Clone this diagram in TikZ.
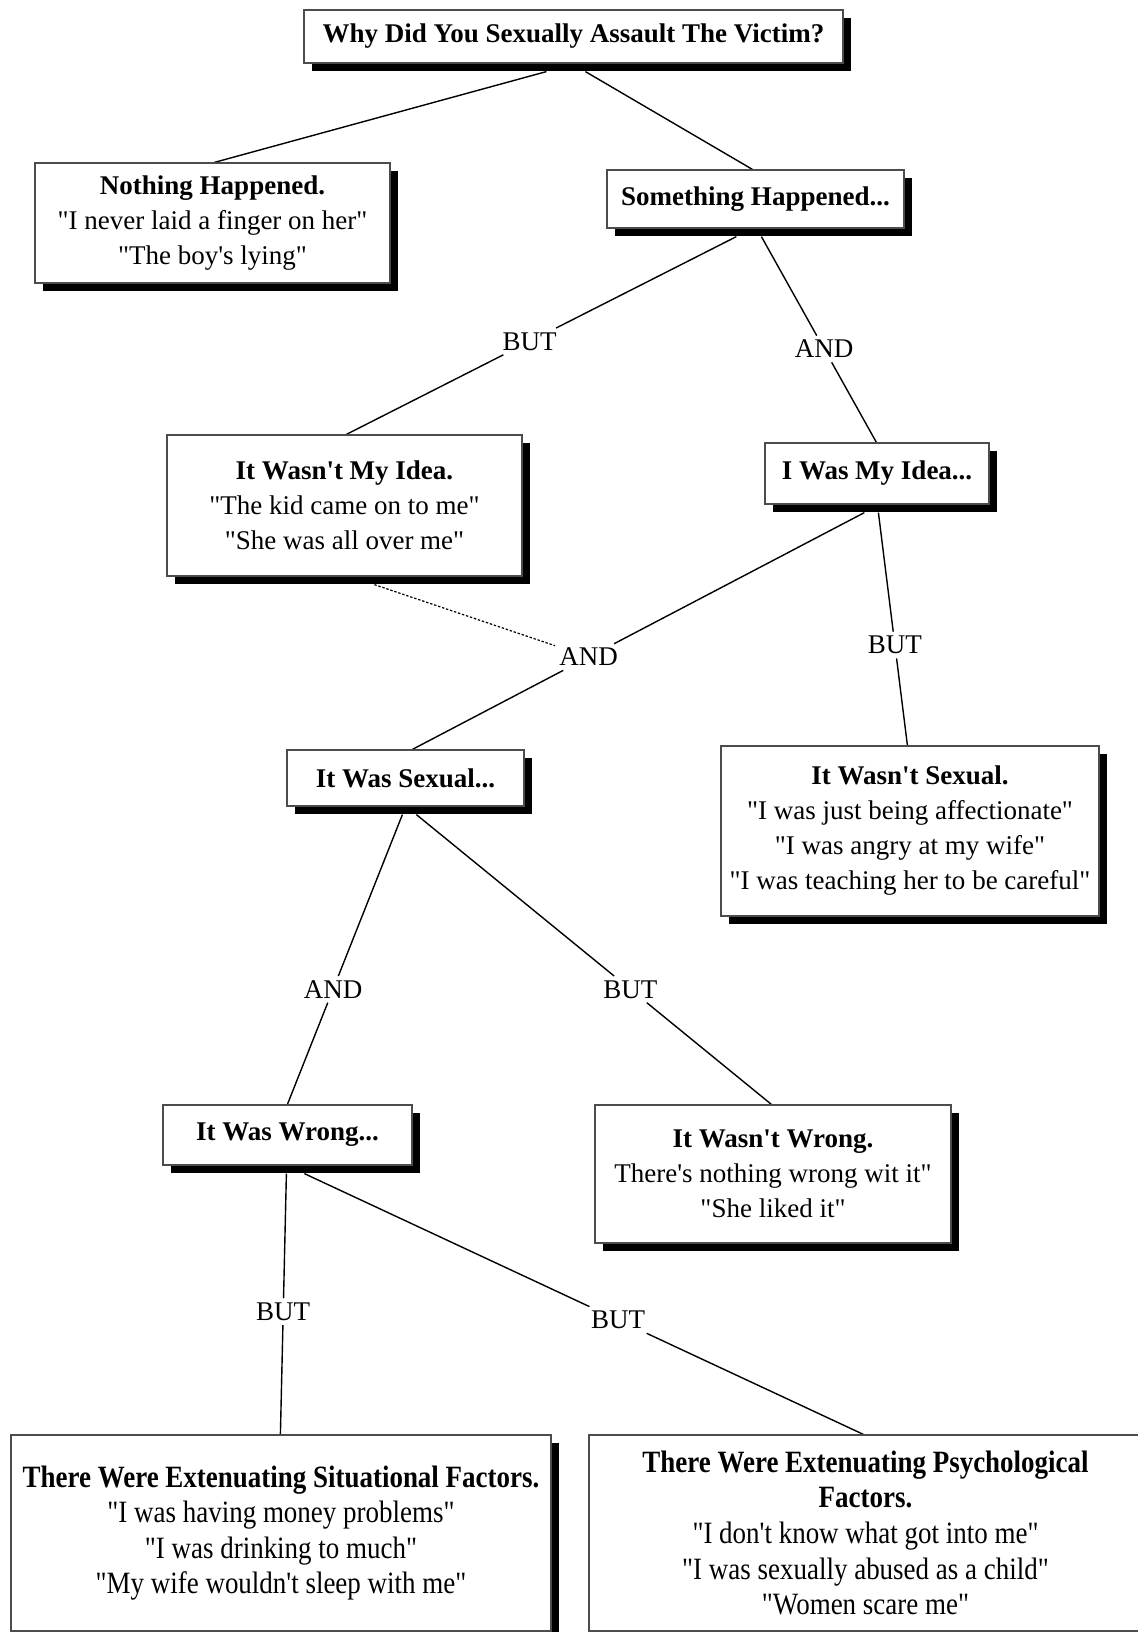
\documentclass[tikz,border=0pt]{standalone}
\usepackage{fontspec}
\setmainfont{Liberation Serif}[Ligatures=TeXOff]
\newfontfamily\condfont{Liberation Serif}[FakeStretch=0.87,Ligatures=TeXOff]
\usetikzlibrary{calc,shadows}
\pgfdeclarelayer{background}
\pgfsetlayers{background,main}
\tikzset{
  tbox/.style={draw=black!70, line width=0.6pt, fill=white, inner sep=0pt, align=center,
    font=\fontsize{13.5}{17.5}\selectfont,
    drop shadow={shadow xshift=4pt, shadow yshift=-4pt, fill=black, opacity=1}},
  cbox/.style={tbox, font=\condfont\fontsize{15.5}{17.8}\selectfont},
  conn/.style={line width=0.7pt, draw=black},
  dotconn/.style={line width=0.6pt, draw=black, dash pattern=on 1.2pt off 0.9pt},
  lab/.style={font=\fontsize{13.5}{16}\selectfont, inner sep=2pt},
}
\begin{document}
\begin{tikzpicture}[x=0.5pt,y=-0.5pt]
\useasboundingbox (0,0) rectangle (1138,1632);
\clip (0,0) rectangle (1138,1632);

% boxes
\node[tbox, minimum width=269.5pt, minimum height=26.5pt] (top) at (573.5,36.5)
  {\textbf{Why Did You Sexually Assault The Victim?}};
\node[tbox, minimum width=177.5pt, minimum height=60pt] (nothing) at (212.5,223)
  {\textbf{Nothing Happened.}\\"I never laid a finger on her"\\"The boy's lying"};
\node[tbox, minimum width=148.5pt, minimum height=29pt] (something) at (755.5,199)
  {\textbf{Something Happened...}};
\node[tbox, minimum width=177.5pt, minimum height=70.5pt] (wasidea) at (344.5,505.5)
  {\textbf{It Wasn't My Idea.}\\"The kid came on to me"\\"She was all over me"};
\node[tbox, minimum width=112pt, minimum height=30.5pt] (myidea) at (877,473.5)
  {\textbf{I Was My Idea...}};
\node[tbox, minimum width=189pt, minimum height=85pt] (notsexual) at (910,831)
  {\textbf{It Wasn't Sexual.}\\"I was just being affectionate"\\"I was angry at my wife"\\"I was teaching her to be careful"};
\node[tbox, minimum width=118.5pt, minimum height=28pt] (sexual) at (405.5,778)
  {\textbf{It Was Sexual...}};
\node[tbox, minimum width=124.5pt, minimum height=30pt] (wrong) at (287.5,1135)
  {\textbf{It Was Wrong...}};
\node[tbox, minimum width=178pt, minimum height=69pt] (notwrong) at (773,1174)
  {\textbf{It Wasn't Wrong.}\\There's nothing wrong wit it"\\"She liked it"};
\node[cbox, minimum width=270pt, minimum height=98pt] (situational) at (281,1533)
  {\textbf{There Were Extenuating Situational Factors.}\\"I was having money problems"\\"I was drinking to much"\\"My wife wouldn't sleep with me"};
\node[cbox, minimum width=276.5pt, minimum height=98pt] (psych) at (865.5,1533)
  {\textbf{There Were Extenuating Psychological}\\\textbf{Factors.}\\"I don't know what got into me"\\"I was sexually abused as a child"\\"Women scare me"};

% attachment points
\coordinate (a1) at ($(top.south west)+(243,8)$);
\coordinate (b1) at ($(nothing.north west)+(180,0)$);
\coordinate (a2) at ($(top.south west)+(282,8)$);
\coordinate (b2) at ($(something.north west)+(146,0)$);
\coordinate (a3) at ($(something.south west)+(130,8)$);
\coordinate (b3) at ($(wasidea.north west)+(180,0)$);
\coordinate (a4) at ($(something.south west)+(155,8)$);
\coordinate (b4) at ($(myidea.north west)+(112,0)$);
\coordinate (a5) at ($(myidea.south west)+(100,8)$);
\coordinate (b5) at ($(sexual.north west)+(126,0)$);
\coordinate (a6) at ($(myidea.south west)+(114,8)$);
\coordinate (b6) at ($(notsexual.north west)+(187,0)$);
\coordinate (d1) at ($(wasidea.south west)+(208,8)$);
\coordinate (a8) at ($(sexual.south west)+(116,8)$);
\coordinate (b8) at ($(wrong.north west)+(125,0)$);
\coordinate (a9) at ($(sexual.south west)+(130,8)$);
\coordinate (b9) at ($(notwrong.north west)+(177,0)$);
\coordinate (a10) at ($(wrong.south west)+(124,8)$);
\coordinate (b10) at ($(situational.north west)+(270,0)$);
\coordinate (a11) at ($(wrong.south west)+(142,8)$);
\coordinate (b11) at ($(psych.north west)+(275,0)$);

% labels
\path (a3) -- node[lab,pos=0.53] (l3) {BUT} (b3);
\path (a4) -- node[lab,pos=0.546] (l4) {AND} (b4);
\path (a5) -- node[lab,pos=0.61] (l5) {AND} (b5);
\path (a6) -- node[lab,pos=0.569] (l6) {BUT} (b6);
\path (a8) -- node[lab,pos=0.603] (l8) {AND} (b8);
\path (a9) -- node[lab,pos=0.603] (l9) {BUT} (b9);
\path (a10) -- node[lab,pos=0.53] (l10) {BUT} (b10);
\path (a11) -- node[lab,pos=0.561] (l11) {BUT} (b11);

% connectors
\begin{pgfonlayer}{background}
\draw[conn] (a1) -- (b1);
\draw[conn] (a2) -- (b2);
\draw[conn] (a3) -- (l3) (l3) -- (b3);
\draw[conn] (a4) -- (l4) (l4) -- (b4);
\draw[conn] (a5) -- (l5) (l5) -- (b5);
\draw[conn] (a6) -- (l6) (l6) -- (b6);
\draw[dotconn] (d1) -- (l5);
\draw[conn] (a8) -- (l8) (l8) -- (b8);
\draw[conn] (a9) -- (l9) (l9) -- (b9);
\draw[conn] (a10) -- (l10) (l10) -- (b10);
\draw[conn] (a11) -- (l11) (l11) -- (b11);
\end{pgfonlayer}
\end{tikzpicture}
\end{document}
